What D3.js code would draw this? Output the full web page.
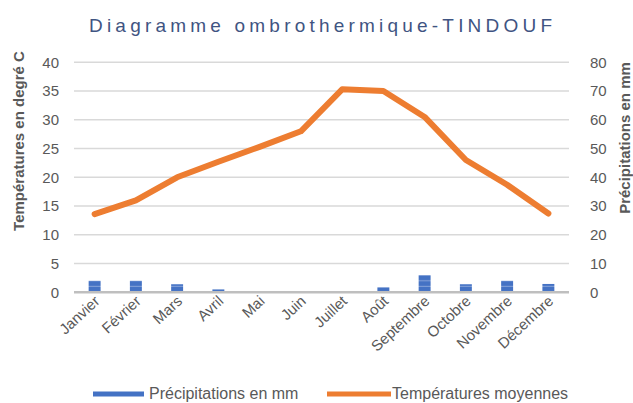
<!DOCTYPE html>
<html>
<head>
<meta charset="utf-8">
<script src="https://cdn.jsdelivr.net/npm/d3@7"></script>
<style>
  body { margin: 0; background: #fff; }
  svg text { font-family: "Liberation Sans", Arial, sans-serif; }
  .tick-label { fill: #595959; font-size: 15px; }
  .axis-title { fill: #595959; font-size: 15px; font-weight: bold; }
</style>
</head>
<body>
<div id="chart"></div>
<script>
// data
const months = ['Janvier', 'Février', 'Mars', 'Avril', 'Mai', 'Juin', 'Juillet', 'Août', 'Septembre', 'Octobre', 'Novembre', 'Décembre'];
const temperatures = [13.6, 16, 20, 22.7, 25.3, 28, 35.3, 35, 30.5, 23, 18.7, 13.7];
const precipitations = [4, 4, 2.8, 1, 0, 0, 0, 1.7, 6, 2.8, 4, 2.9];
const tempTicks = [0, 5, 10, 15, 20, 25, 30, 35, 40];
const precTicks = [0, 10, 20, 30, 40, 50, 60, 70, 80];

const W = 633, H = 403;
const plot = {left: 74, right: 569, top: 62.3, bottom: 292.3};

const svg = d3.select('#chart').append('svg')
    .attr('width', W)
    .attr('height', H);

// stripe pattern for the bars
const pat = svg.append('defs').append('pattern')
    .attr('id', 'stripes')
    .attr('patternUnits', 'userSpaceOnUse')
    .attr('width', 10)
    .attr('height', 5.5)
    .attr('y', plot.bottom);
pat.append('rect').attr('width', 10).attr('height', 5.5).attr('fill', '#4472C4');
pat.append('rect').attr('y', 4.5).attr('width', 10).attr('height', 1).attr('fill', '#86a3d9');

const x = d3.scaleBand().domain(months).range([plot.left, plot.right]).paddingInner(0.71).paddingOuter(0.355);
const xc = d3.scaleBand().domain(months).range([plot.left, plot.right]);
const yT = d3.scaleLinear().domain([0, 40]).range([plot.bottom, plot.top]);
const yP = d3.scaleLinear().domain([0, 80]).range([plot.bottom, plot.top]);

// title
svg.append('text')
  .attr('x', 89)
  .attr('y', 32)
  .attr('textLength', 463)
  .attr('lengthAdjust', 'spacing')
  .attr('fill', '#3f5482')
  .style('font-size', '19px')
  .text('Diagramme ombrothermique-TINDOUF');

// gridlines
svg.append('g')
  .selectAll('line')
  .data(tempTicks.filter(d => d > 0))
  .join('line')
    .attr('x1', plot.left).attr('x2', plot.right)
    .attr('y1', d => yT(d)).attr('y2', d => yT(d))
    .attr('stroke', '#d9d9d9')
    .attr('stroke-width', 1.5);

// left axis labels
const leftAxis = svg.append('g')
  .attr('transform', `translate(${plot.left},0)`)
  .call(d3.axisLeft(yT).tickValues(tempTicks).tickSize(0).tickPadding(15));
leftAxis.select('.domain').remove();

// right axis labels
const rightAxis = svg.append('g')
  .attr('transform', `translate(${plot.right},0)`)
  .call(d3.axisRight(yP).tickValues(precTicks).tickSize(0).tickPadding(21));
rightAxis.select('.domain').remove();

[leftAxis, rightAxis].forEach(a => {
  a.attr('font-size', null).attr('font-family', null);
  a.selectAll('text').attr('class', 'tick-label').attr('fill', null);
});

// bars
svg.append('g')
  .selectAll('rect')
  .data(months)
  .join('rect')
    .attr('x', d => x(d))
    .attr('y', (d, i) => yP(precipitations[i]))
    .attr('width', x.bandwidth())
    .attr('height', (d, i) => plot.bottom - yP(precipitations[i]))
    .attr('fill', 'url(#stripes)');

// baseline
svg.append('line')
  .attr('x1', plot.left).attr('x2', plot.right)
  .attr('y1', plot.bottom).attr('y2', plot.bottom)
  .attr('stroke', '#bfbfbf')
  .attr('stroke-width', 2.5);

// temperature line
const line = d3.line()
  .x((d, i) => xc(months[i]) + xc.bandwidth() / 2)
  .y(d => yT(d));
svg.append('path')
  .datum(temperatures)
  .attr('d', line)
  .attr('fill', 'none')
  .attr('stroke', '#ED7D31')
  .attr('stroke-width', 6)
  .attr('stroke-linejoin', 'round')
  .attr('stroke-linecap', 'round');

// month labels
svg.append('g')
  .selectAll('text')
  .data(months)
  .join('text')
    .attr('class', 'tick-label')
    .attr('text-anchor', 'end')
    .attr('transform', d => `translate(${xc(d) + xc.bandwidth() / 2 + 6},${plot.bottom + 10}) rotate(-43)`)
    .text(d => d);

// axis titles
svg.append('text')
  .attr('class', 'axis-title')
  .attr('text-anchor', 'middle')
  .attr('transform', 'translate(24,141) rotate(-90)')
  .text('Températures en degré C');

svg.append('text')
  .attr('class', 'axis-title')
  .attr('text-anchor', 'middle')
  .attr('transform', 'translate(630,138) rotate(-90)')
  .text('Précipitations en mm');

// legend
const legend = [
  {label: 'Précipitations en mm', color: '#4472C4', x1: 93, x2: 144, tx: 149},
  {label: 'Températures moyennes', color: '#ED7D31', x1: 327, x2: 391, tx: 392}
];
const lg = svg.append('g').selectAll('g').data(legend).join('g');
lg.append('line')
  .attr('x1', d => d.x1).attr('x2', d => d.x2)
  .attr('y1', 394).attr('y2', 394)
  .attr('stroke', d => d.color)
  .attr('stroke-width', 5);
lg.append('text')
  .attr('x', d => d.tx)
  .attr('y', 399)
  .attr('fill', '#595959')
  .style('font-size', '16px')
  .text(d => d.label);
</script>
</body>
</html>
